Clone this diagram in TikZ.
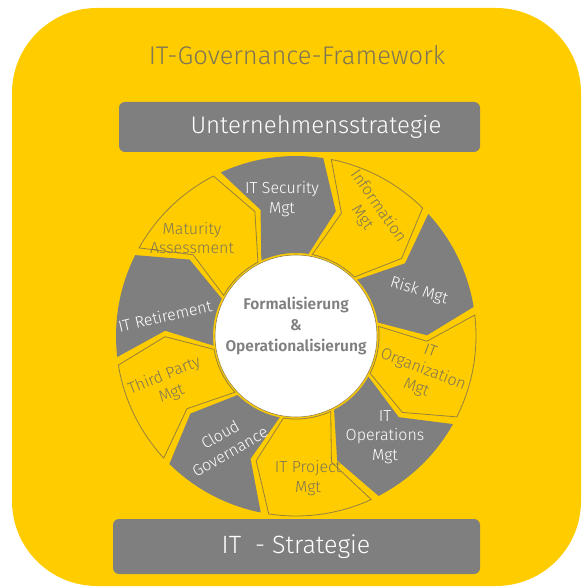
\documentclass[tikz,border=0pt]{standalone}
\usepackage{fontspec}
\setmainfont{Fira Sans Light}[BoldFont={Fira Sans SemiBold}]
\usepackage{xcolor}
\usepackage{tikz}
\usetikzlibrary{shapes.geometric, positioning}
\definecolor{govyellow}{RGB}{255,204,0}
\definecolor{govgray}{RGB}{127,127,127}
\definecolor{govtext}{RGB}{125,117,85}
\definecolor{govline}{RGB}{150,130,60}
\newcommand{\segOuter}{180}
\newcommand{\segInner}{83}
\newcommand{\segMid}{131}
\newcommand{\segGap}{1.3}
\newcommand{\segTip}{9}
% one chevron of the ring, #1 = clockwise boundary angle
\newcommand{\ringseg}[2]{%
  \path[#2] (#1+36-\segGap:\segOuter)
    arc[start angle=#1+36-\segGap, end angle=#1+\segGap, radius=\segOuter]
    -- (#1+\segGap-\segTip:\segMid)
    -- (#1+\segGap:\segInner)
    arc[start angle=#1+\segGap, end angle=#1+36-\segGap, radius=\segInner]
    -- (#1+36-\segGap-\segTip:\segMid) -- cycle;}
\tikzset{
  segdark/.style={fill=govgray},
  seglight/.style={fill=govyellow, draw=govline, line width=0.8pt},
  strategybar/.style={
    rectangle, fill=govgray, rounded corners=6pt, inner sep=0pt
  },
  bartext/.style={
    text=white, font=\fontsize{24}{28}\selectfont, inner sep=0pt
  },
  govtitle/.style={
    text=govtext, font=\fontsize{25.5}{29}\selectfont, inner sep=0pt
  },
  darklabel/.style={
    text=white, align=center, inner sep=0pt,
    font=\fontsize{16}{19.5}\selectfont
  },
  lightlabel/.style={
    text=govtext, align=center, inner sep=0pt,
    font=\fontsize{16}{19.5}\selectfont
  },
  hubcircle/.style={
    circle, fill=white, draw=govline, line width=0.6pt,
    minimum size=162pt, inner sep=0pt
  },
  hubtext/.style={
    text=govgray, align=center, inner sep=0pt,
    font=\bfseries\fontsize{15.5}{21}\selectfont
  }
}
\begin{document}
\begin{tikzpicture}[x=1pt, y=1pt]
  \useasboundingbox (0,0) rectangle (588,586);
  \fill[govyellow, rounded corners=85pt] (12,0) rectangle (581,578);

  \node[govtitle] (title) at (297,531) {IT-Governance-Framework};
  \node[strategybar, minimum width=361pt, minimum height=50pt] (topbar) at (299.5,459) {};
  \node[bartext] (toptext) at (316,459) {Unternehmensstrategie};
  \node[strategybar, minimum width=367pt, minimum height=55pt] (bottombar) at (296.5,39.5) {};
  \node[bartext, font=\fontsize{25}{29}\selectfont] (bottomtext) at (296,39) {IT\ \ - Strategie};

  % ring of chevrons
  \begin{scope}[shift={(296,250)}]
    \ringseg{80}{segdark}
    \ringseg{44}{seglight}
    \ringseg{8}{segdark}
    \ringseg{-28}{seglight}
    \ringseg{-64}{segdark}
    \ringseg{-100}{seglight}
    \ringseg{-136}{segdark}
    \ringseg{-172}{seglight}
    \ringseg{152}{segdark}
    \ringseg{116}{seglight}
  \end{scope}

  \node[hubcircle] (hub) at (296,250) {};
  \node[hubtext] (hubtext) at (296,260) {Formalisierung\\\&\\Operationalisierung};

  \node[darklabel] (security) at (282,387) {IT Security\\Mgt};
  \node[lightlabel, rotate=-55] (information) at (370,374) {Information\\Mgt};
  \node[darklabel, rotate=-17] (risk) at (419,295) {Risk Mgt};
  \node[lightlabel, rotate=-21] (organization) at (423,216) {IT\\Organization\\Mgt};
  \node[darklabel] (operations) at (385,149) {IT\\Operations\\Mgt};
  \node[lightlabel] (project) at (308,108) {IT Project\\Mgt};
  \node[darklabel, rotate=30] (cloud) at (225,143) {Cloud\\Governance};
  \node[lightlabel, rotate=22] (thirdparty) at (168,201) {Third Party\\Mgt};
  \node[darklabel, rotate=13] (retirement) at (165,270) {IT Retirement};
  \node[lightlabel] (maturity) at (192,348) {Maturity\\Assessment};
\end{tikzpicture}
\end{document}
